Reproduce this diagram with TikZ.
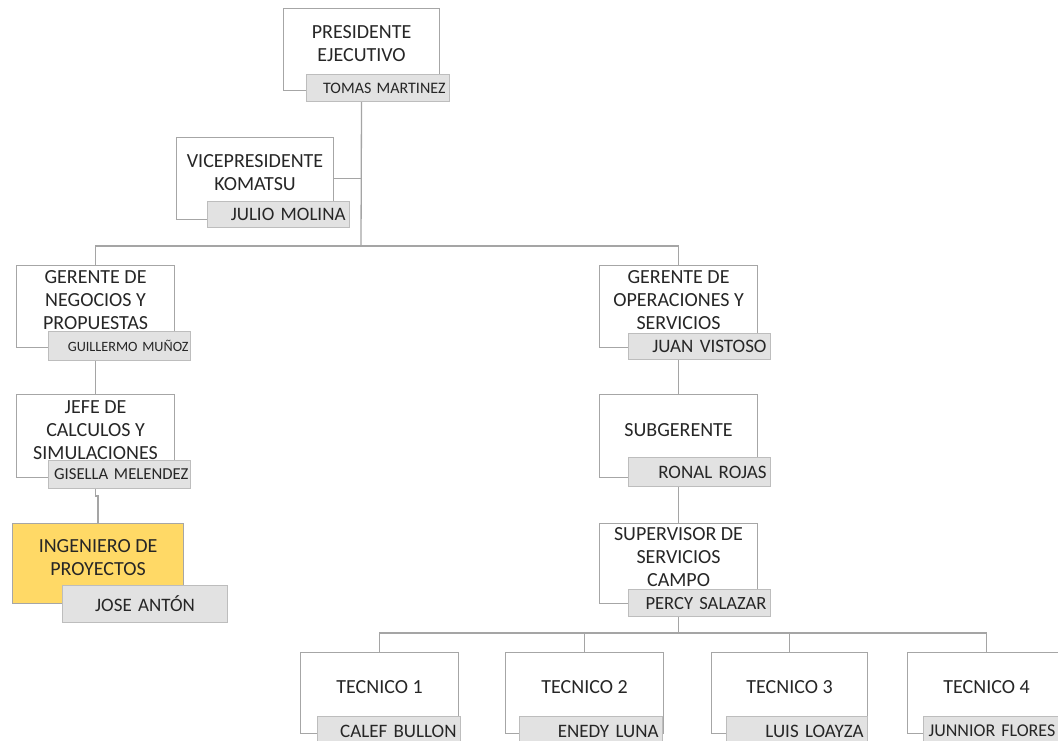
\documentclass[tikz,border=0pt]{standalone}
\usepackage{fontspec}
\setmainfont{Carlito}
\definecolor{boxgray}{HTML}{A6A6A6}
\definecolor{namefill}{HTML}{E2E2E2}
\definecolor{nameline}{HTML}{BDBDBD}
\definecolor{linegray}{HTML}{A5A5A5}
\definecolor{txt}{HTML}{262626}
\definecolor{yel}{HTML}{FFD966}
\pgfdeclarelayer{bottom}
\pgfdeclarelayer{background}
\pgfsetlayers{bottom,background,main}
\begin{document}
\begin{tikzpicture}[x=1pt,y=-1pt,
  posbox/.style={draw=boxgray, line width=1.1pt, fill=white, inner sep=0pt, anchor=north west},
  title/.style={text=txt, align=center, inner sep=0pt, font=\fontsize{20}{23}\selectfont},
  namebox/.style={draw=nameline, line width=1.1pt, fill=namefill, inner sep=0pt, anchor=north west, text=txt, font=\fontsize{19}{22}\selectfont},
  conn/.style={draw=linegray, line width=1.3pt}]
\useasboundingbox (0,0) rectangle (1058,741);
\clip (0,0) rectangle (1058,741);
\begin{pgfonlayer}{bottom}
\fill[white] (0,0) rectangle (1058,741);
\end{pgfonlayer}

% boxes (positions)
\node[posbox, minimum width=156, minimum height=82] (pres) at (283,8) {};
\node[posbox, minimum width=157, minimum height=82] (vp) at (176,137) {};
\node[posbox, minimum width=158, minimum height=82] (gn) at (16,265) {};
\node[posbox, minimum width=158, minimum height=83] (jefe) at (16,394) {};
\node[posbox, fill=yel, minimum width=171, minimum height=80] (ing) at (12,523) {};
\node[posbox, minimum width=158, minimum height=82] (go) at (599,265) {};
\node[posbox, minimum width=158, minimum height=83] (sub) at (599,394) {};
\node[posbox, minimum width=158, minimum height=80] (sup) at (599,523) {};
\node[posbox, minimum width=158, minimum height=81] (t1) at (300,652) {};
\node[posbox, minimum width=158, minimum height=81] (t2) at (505,652) {};
\node[posbox, minimum width=156, minimum height=81] (t3) at (711,652) {};
\node[posbox, minimum width=158, minimum height=81] (t4) at (907,652) {};

% titles
\node[title] (tpres) at ([yshift=6pt]pres.center) {PRESIDENTE\\EJECUTIVO};
\node[title] (tvp) at ([yshift=6pt]vp.center) {VICEPRESIDENTE\\KOMATSU};
\node[title] (tgn) at ([yshift=6pt]gn.center) {GERENTE DE\\NEGOCIOS Y\\PROPUESTAS};
\node[title] (tjefe) at ([yshift=6pt]jefe.center) {JEFE DE\\CALCULOS Y\\SIMULACIONES};
\node[title] (ting) at ([yshift=6pt]ing.center) {INGENIERO DE\\PROYECTOS};
\node[title] (tgo) at ([yshift=6pt]go.center) {GERENTE DE\\OPERACIONES Y\\SERVICIOS};
\node[title] (tsub) at ([yshift=6pt]sub.center) {SUBGERENTE};
\node[title] (tsup) at ([yshift=6pt]sup.center) {SUPERVISOR DE\\SERVICIOS\\CAMPO};
\node[title] (tt1) at ([yshift=6pt]t1.center) {TECNICO 1};
\node[title] (tt2) at ([yshift=6pt]t2.center) {TECNICO 2};
\node[title] (tt3) at ([yshift=6pt]t3.center) {TECNICO 3};
\node[title] (tt4) at ([yshift=6pt]t4.center) {TECNICO 4};

% name boxes
\node[namebox, minimum width=143, minimum height=27, text width=135, align=right, inner xsep=4pt, font=\fontsize{16}{19}\selectfont] (npres) at (306,74) {TOMAS MARTINEZ};
\node[namebox, minimum width=142, minimum height=26, text width=134, align=right, inner xsep=4pt] (nvp) at (207,201) {JULIO MOLINA};
\node[namebox, minimum width=142, minimum height=29, text width=138, align=right, inner xsep=2pt, font=\fontsize{14.2}{17}\selectfont] (ngn) at (48,331) {GUILLERMO MUÑOZ};
\node[namebox, minimum width=142, minimum height=28, text width=138, align=right, inner xsep=2pt, font=\fontsize{16.7}{19}\selectfont] (njefe) at (48,460) {GISELLA MELENDEZ};
\node[namebox, minimum width=165, minimum height=37, text width=165, align=center] (ning) at (62,585) {JOSE ANTÓN};
\node[namebox, minimum width=142, minimum height=26, text width=134, align=right, inner xsep=4pt] (ngo) at (628,333) {JUAN VISTOSO};
\node[namebox, minimum width=142, minimum height=29, text width=134, align=right, inner xsep=4pt] (nsub) at (628,457) {RONAL ROJAS};
\node[namebox, minimum width=142, minimum height=27, text width=134, align=right, inner xsep=4pt, font=\fontsize{18.6}{21}\selectfont] (nsup) at (628,589) {PERCY SALAZAR};
\node[namebox, minimum width=143, minimum height=29, text width=135, align=right, inner xsep=4pt] (nt1) at (317,716) {CALEF BULLON};
\node[namebox, minimum width=143, minimum height=29, text width=135, align=right, inner xsep=4pt] (nt2) at (519,716) {ENEDY LUNA};
\node[namebox, minimum width=141, minimum height=29, text width=133, align=right, inner xsep=4pt] (nt3) at (726,716) {LUIS LOAYZA};
\node[namebox, minimum width=147, minimum height=29, text width=141, align=left, inner xsep=5pt, font=\fontsize{18}{21}\selectfont] (nt4) at (923,716) {JUNNIOR FLORES};

% connectors (behind the boxes)
\coordinate (jtop) at (361,246);
\coordinate (jt) at (679,633);
\begin{pgfonlayer}{background}
\draw[conn] (pres.south) -- (jtop);
\draw[conn] (vp.east) -- (vp.east -| jtop);
\draw[conn] (gn.north) |- (jtop) -| (go.north);
\draw[conn] (gn.south) -- (jefe.north);
\draw[conn] (jefe.south) -- ++(0,18) -| (ing.north);
\draw[conn] (go.south) -- (sub.north);
\draw[conn] (sub.south) -- (sup.north);
\draw[conn] (sup.south) -- (sup.south |- jt);
\draw[conn] (t1.north) |- (jt) -| (t4.north);
\draw[conn] (t2.north) -- (t2.north |- jt);
\draw[conn] (t3.north) -- (t3.north |- jt);
\end{pgfonlayer}
\end{tikzpicture}
\end{document}
